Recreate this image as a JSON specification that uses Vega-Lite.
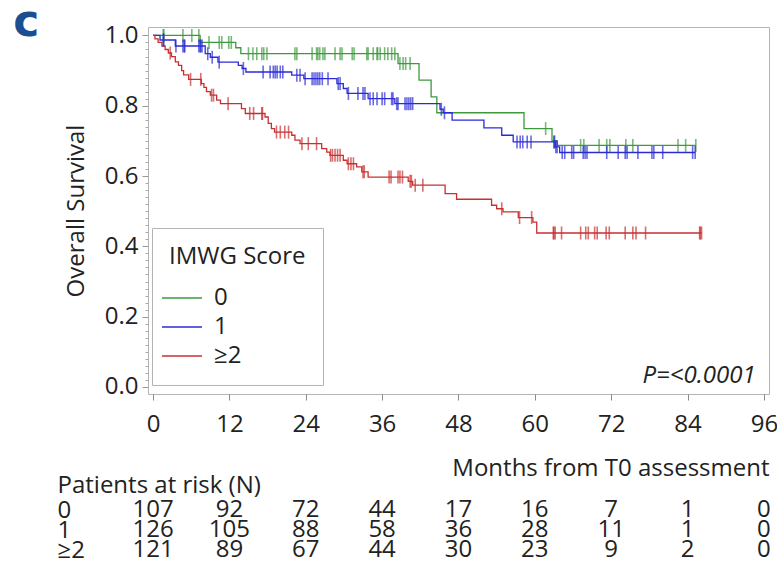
{
  "$schema": "https://vega.github.io/schema/vega-lite/v6.json",
  "background": "white",
  "padding": {"left": 12, "top": 0, "right": 2, "bottom": 4},
  "spacing": 19,
  "config": {"font": "Open Sans", "axis": {"labelColor": "#222222", "titleColor": "#222222", "labelFont": "Open Sans", "titleFont": "Open Sans"}, "legend": {"labelFont": "Open Sans", "titleFont": "Open Sans"}},
  "resolve": {"scale": {"x": "independent", "y": "independent"}},
  "datasets": {
    "curves": [
      {"group": "0", "month": 0, "surv": 1.0}, {"group": "0", "month": 7.4, "surv": 0.98}, {"group": "0", "month": 13.0, "surv": 0.965}, {"group": "0", "month": 13.8, "surv": 0.948}, {"group": "0", "month": 38.5, "surv": 0.92}, {"group": "0", "month": 41.8, "surv": 0.873}, {"group": "0", "month": 43.7, "surv": 0.825}, {"group": "0", "month": 44.6, "surv": 0.78}, {"group": "0", "month": 58.3, "surv": 0.735}, {"group": "0", "month": 62.7, "surv": 0.70}, {"group": "0", "month": 63.5, "surv": 0.687}, {"group": "0", "month": 85.3, "surv": 0.687},
      {"group": "1", "month": 0, "surv": 1.0}, {"group": "1", "month": 1.1, "surv": 0.987}, {"group": "1", "month": 3.5, "surv": 0.97}, {"group": "1", "month": 8.2, "surv": 0.948}, {"group": "1", "month": 9.0, "surv": 0.938}, {"group": "1", "month": 10.2, "surv": 0.924}, {"group": "1", "month": 13.4, "surv": 0.915}, {"group": "1", "month": 14.0, "surv": 0.906}, {"group": "1", "month": 14.6, "surv": 0.896}, {"group": "1", "month": 21.8, "surv": 0.887}, {"group": "1", "month": 23.7, "surv": 0.877}, {"group": "1", "month": 28.9, "surv": 0.863}, {"group": "1", "month": 29.9, "surv": 0.849}, {"group": "1", "month": 30.5, "surv": 0.835}, {"group": "1", "month": 33.8, "surv": 0.82}, {"group": "1", "month": 38.0, "surv": 0.806}, {"group": "1", "month": 45.1, "surv": 0.79}, {"group": "1", "month": 45.6, "surv": 0.78}, {"group": "1", "month": 47.0, "surv": 0.759}, {"group": "1", "month": 52.0, "surv": 0.737}, {"group": "1", "month": 54.8, "surv": 0.716}, {"group": "1", "month": 56.6, "surv": 0.697}, {"group": "1", "month": 63.2, "surv": 0.683}, {"group": "1", "month": 63.9, "surv": 0.667}, {"group": "1", "month": 85.2, "surv": 0.667},
      {"group": "≥2", "month": 0, "surv": 1.0}, {"group": "≥2", "month": 0.3, "surv": 0.99}, {"group": "≥2", "month": 0.8, "surv": 0.98}, {"group": "≥2", "month": 1.4, "surv": 0.97}, {"group": "≥2", "month": 1.9, "surv": 0.96}, {"group": "≥2", "month": 2.4, "surv": 0.95}, {"group": "≥2", "month": 2.9, "surv": 0.94}, {"group": "≥2", "month": 3.5, "surv": 0.925}, {"group": "≥2", "month": 4.0, "surv": 0.915}, {"group": "≥2", "month": 4.5, "surv": 0.90}, {"group": "≥2", "month": 4.8, "surv": 0.888}, {"group": "≥2", "month": 5.6, "surv": 0.875}, {"group": "≥2", "month": 7.6, "surv": 0.863}, {"group": "≥2", "month": 8.0, "surv": 0.852}, {"group": "≥2", "month": 8.4, "surv": 0.84}, {"group": "≥2", "month": 9.0, "surv": 0.83}, {"group": "≥2", "month": 10.0, "surv": 0.816}, {"group": "≥2", "month": 10.6, "surv": 0.806}, {"group": "≥2", "month": 13.9, "surv": 0.792}, {"group": "≥2", "month": 14.5, "surv": 0.778}, {"group": "≥2", "month": 17.6, "surv": 0.768}, {"group": "≥2", "month": 18.1, "surv": 0.75}, {"group": "≥2", "month": 18.6, "surv": 0.735}, {"group": "≥2", "month": 19.1, "surv": 0.725}, {"group": "≥2", "month": 21.8, "surv": 0.716}, {"group": "≥2", "month": 22.3, "surv": 0.702}, {"group": "≥2", "month": 23.1, "surv": 0.692}, {"group": "≥2", "month": 26.5, "surv": 0.678}, {"group": "≥2", "month": 27.3, "surv": 0.668}, {"group": "≥2", "month": 27.8, "surv": 0.659}, {"group": "≥2", "month": 29.9, "surv": 0.645}, {"group": "≥2", "month": 30.5, "surv": 0.635}, {"group": "≥2", "month": 32.0, "surv": 0.626}, {"group": "≥2", "month": 32.8, "surv": 0.612}, {"group": "≥2", "month": 33.8, "surv": 0.597}, {"group": "≥2", "month": 40.1, "surv": 0.585}, {"group": "≥2", "month": 40.8, "surv": 0.574}, {"group": "≥2", "month": 45.9, "surv": 0.55}, {"group": "≥2", "month": 47.7, "surv": 0.534}, {"group": "≥2", "month": 53.2, "surv": 0.517}, {"group": "≥2", "month": 54.0, "surv": 0.507}, {"group": "≥2", "month": 55.0, "surv": 0.498}, {"group": "≥2", "month": 57.4, "surv": 0.482}, {"group": "≥2", "month": 59.7, "surv": 0.469}, {"group": "≥2", "month": 60.3, "surv": 0.438}, {"group": "≥2", "month": 86.2, "surv": 0.438}
    ],
    "censor": [
      {"group": "0", "month": 1.6, "surv": 1.0}, {"group": "0", "month": 1.7, "surv": 1.0}, {"group": "0", "month": 4.7, "surv": 1.0}, {"group": "0", "month": 6.1, "surv": 1.0}, {"group": "0", "month": 7.2, "surv": 1.0},
      {"group": "0", "month": 8.8, "surv": 0.98}, {"group": "0", "month": 10.4, "surv": 0.98}, {"group": "0", "month": 10.8, "surv": 0.98}, {"group": "0", "month": 11.9, "surv": 0.98}, {"group": "0", "month": 12.3, "surv": 0.98},
      {"group": "0", "month": 15.0, "surv": 0.948}, {"group": "0", "month": 15.7, "surv": 0.948}, {"group": "0", "month": 16.3, "surv": 0.948}, {"group": "0", "month": 17.1, "surv": 0.948}, {"group": "0", "month": 17.4, "surv": 0.948}, {"group": "0", "month": 17.9, "surv": 0.948}, {"group": "0", "month": 22.3, "surv": 0.948}, {"group": "0", "month": 22.6, "surv": 0.948}, {"group": "0", "month": 25.0, "surv": 0.948}, {"group": "0", "month": 25.7, "surv": 0.948}, {"group": "0", "month": 25.9, "surv": 0.948}, {"group": "0", "month": 26.2, "surv": 0.948}, {"group": "0", "month": 26.7, "surv": 0.948}, {"group": "0", "month": 27.0, "surv": 0.948}, {"group": "0", "month": 28.6, "surv": 0.948}, {"group": "0", "month": 29.4, "surv": 0.948}, {"group": "0", "month": 29.7, "surv": 0.948}, {"group": "0", "month": 31.3, "surv": 0.948}, {"group": "0", "month": 31.6, "surv": 0.948}, {"group": "0", "month": 33.6, "surv": 0.948}, {"group": "0", "month": 33.8, "surv": 0.948}, {"group": "0", "month": 34.6, "surv": 0.948}, {"group": "0", "month": 35.2, "surv": 0.948}, {"group": "0", "month": 35.3, "surv": 0.948}, {"group": "0", "month": 35.7, "surv": 0.948}, {"group": "0", "month": 36.4, "surv": 0.948}, {"group": "0", "month": 36.9, "surv": 0.948}, {"group": "0", "month": 37.5, "surv": 0.948}, {"group": "0", "month": 38.0, "surv": 0.948},
      {"group": "0", "month": 38.8, "surv": 0.92}, {"group": "0", "month": 39.3, "surv": 0.92}, {"group": "0", "month": 39.7, "surv": 0.92}, {"group": "0", "month": 40.4, "surv": 0.92},
      {"group": "0", "month": 61.7, "surv": 0.735},
      {"group": "0", "month": 67.2, "surv": 0.687}, {"group": "0", "month": 67.7, "surv": 0.687}, {"group": "0", "month": 70.1, "surv": 0.687}, {"group": "0", "month": 71.3, "surv": 0.687}, {"group": "0", "month": 71.8, "surv": 0.687}, {"group": "0", "month": 74.3, "surv": 0.687}, {"group": "0", "month": 75.4, "surv": 0.687}, {"group": "0", "month": 82.5, "surv": 0.687}, {"group": "0", "month": 83.7, "surv": 0.687}, {"group": "0", "month": 85.3, "surv": 0.687},
      {"group": "1", "month": 1.6, "surv": 0.987}, {"group": "1", "month": 1.7, "surv": 0.987},
      {"group": "1", "month": 3.6, "surv": 0.97}, {"group": "1", "month": 4.7, "surv": 0.97}, {"group": "1", "month": 4.9, "surv": 0.97}, {"group": "1", "month": 5.0, "surv": 0.97}, {"group": "1", "month": 7.2, "surv": 0.97}, {"group": "1", "month": 7.4, "surv": 0.97}, {"group": "1", "month": 7.5, "surv": 0.97}, {"group": "1", "month": 7.7, "surv": 0.97},
      {"group": "1", "month": 8.6, "surv": 0.948}, {"group": "1", "month": 9.3, "surv": 0.938}, {"group": "1", "month": 10.4, "surv": 0.924}, {"group": "1", "month": 14.2, "surv": 0.906},
      {"group": "1", "month": 17.3, "surv": 0.896}, {"group": "1", "month": 18.4, "surv": 0.896}, {"group": "1", "month": 18.9, "surv": 0.896}, {"group": "1", "month": 19.2, "surv": 0.896}, {"group": "1", "month": 19.5, "surv": 0.896}, {"group": "1", "month": 20.0, "surv": 0.896}, {"group": "1", "month": 20.4, "surv": 0.896},
      {"group": "1", "month": 22.6, "surv": 0.887}, {"group": "1", "month": 23.1, "surv": 0.887},
      {"group": "1", "month": 23.9, "surv": 0.877}, {"group": "1", "month": 25.0, "surv": 0.877}, {"group": "1", "month": 25.3, "surv": 0.877}, {"group": "1", "month": 25.6, "surv": 0.877}, {"group": "1", "month": 25.9, "surv": 0.877}, {"group": "1", "month": 26.2, "surv": 0.877}, {"group": "1", "month": 26.6, "surv": 0.877}, {"group": "1", "month": 27.5, "surv": 0.877},
      {"group": "1", "month": 29.1, "surv": 0.863}, {"group": "1", "month": 29.4, "surv": 0.863},
      {"group": "1", "month": 30.7, "surv": 0.835}, {"group": "1", "month": 32.2, "surv": 0.835}, {"group": "1", "month": 33.0, "surv": 0.835}, {"group": "1", "month": 33.3, "surv": 0.835},
      {"group": "1", "month": 34.1, "surv": 0.82}, {"group": "1", "month": 34.6, "surv": 0.82}, {"group": "1", "month": 35.2, "surv": 0.82}, {"group": "1", "month": 36.0, "surv": 0.82}, {"group": "1", "month": 36.4, "surv": 0.82}, {"group": "1", "month": 37.5, "surv": 0.82}, {"group": "1", "month": 37.7, "surv": 0.82},
      {"group": "1", "month": 38.3, "surv": 0.806}, {"group": "1", "month": 38.5, "surv": 0.806}, {"group": "1", "month": 39.6, "surv": 0.806}, {"group": "1", "month": 39.9, "surv": 0.806}, {"group": "1", "month": 40.2, "surv": 0.806}, {"group": "1", "month": 40.5, "surv": 0.806}, {"group": "1", "month": 40.8, "surv": 0.806},
      {"group": "1", "month": 45.3, "surv": 0.79}, {"group": "1", "month": 45.8, "surv": 0.78},
      {"group": "1", "month": 57.2, "surv": 0.697}, {"group": "1", "month": 57.7, "surv": 0.697}, {"group": "1", "month": 58.1, "surv": 0.697}, {"group": "1", "month": 58.8, "surv": 0.697}, {"group": "1", "month": 59.4, "surv": 0.697}, {"group": "1", "month": 63.0, "surv": 0.697}, {"group": "1", "month": 63.1, "surv": 0.697},
      {"group": "1", "month": 63.3, "surv": 0.683}, {"group": "1", "month": 63.5, "surv": 0.683},
      {"group": "1", "month": 64.3, "surv": 0.667}, {"group": "1", "month": 64.7, "surv": 0.667}, {"group": "1", "month": 65.8, "surv": 0.667}, {"group": "1", "month": 66.1, "surv": 0.667}, {"group": "1", "month": 67.6, "surv": 0.667}, {"group": "1", "month": 67.9, "surv": 0.667}, {"group": "1", "month": 68.2, "surv": 0.667}, {"group": "1", "month": 71.3, "surv": 0.667}, {"group": "1", "month": 73.1, "surv": 0.667}, {"group": "1", "month": 74.2, "surv": 0.667}, {"group": "1", "month": 74.5, "surv": 0.667}, {"group": "1", "month": 76.2, "surv": 0.667}, {"group": "1", "month": 78.4, "surv": 0.667}, {"group": "1", "month": 78.7, "surv": 0.667}, {"group": "1", "month": 80.1, "surv": 0.667}, {"group": "1", "month": 84.8, "surv": 0.667}, {"group": "1", "month": 85.2, "surv": 0.667},
      {"group": "≥2", "month": 2.7, "surv": 0.95}, {"group": "≥2", "month": 5.9, "surv": 0.875}, {"group": "≥2", "month": 7.5, "surv": 0.875}, {"group": "≥2", "month": 9.2, "surv": 0.83}, {"group": "≥2", "month": 9.5, "surv": 0.83}, {"group": "≥2", "month": 11.8, "surv": 0.806},
      {"group": "≥2", "month": 15.2, "surv": 0.778}, {"group": "≥2", "month": 15.8, "surv": 0.778}, {"group": "≥2", "month": 17.1, "surv": 0.778}, {"group": "≥2", "month": 17.2, "surv": 0.778},
      {"group": "≥2", "month": 19.4, "surv": 0.725}, {"group": "≥2", "month": 20.0, "surv": 0.725}, {"group": "≥2", "month": 20.7, "surv": 0.725}, {"group": "≥2", "month": 21.3, "surv": 0.725},
      {"group": "≥2", "month": 23.4, "surv": 0.692}, {"group": "≥2", "month": 24.4, "surv": 0.692}, {"group": "≥2", "month": 25.7, "surv": 0.692},
      {"group": "≥2", "month": 27.9, "surv": 0.659}, {"group": "≥2", "month": 28.2, "surv": 0.659}, {"group": "≥2", "month": 28.6, "surv": 0.659}, {"group": "≥2", "month": 29.0, "surv": 0.659}, {"group": "≥2", "month": 29.4, "surv": 0.659},
      {"group": "≥2", "month": 30.7, "surv": 0.635}, {"group": "≥2", "month": 31.1, "surv": 0.635}, {"group": "≥2", "month": 31.5, "surv": 0.635},
      {"group": "≥2", "month": 33.0, "surv": 0.612}, {"group": "≥2", "month": 33.2, "surv": 0.612},
      {"group": "≥2", "month": 37.1, "surv": 0.597}, {"group": "≥2", "month": 37.4, "surv": 0.597}, {"group": "≥2", "month": 38.5, "surv": 0.597}, {"group": "≥2", "month": 38.8, "surv": 0.597}, {"group": "≥2", "month": 39.2, "surv": 0.597},
      {"group": "≥2", "month": 40.4, "surv": 0.585}, {"group": "≥2", "month": 40.6, "surv": 0.585}, {"group": "≥2", "month": 41.2, "surv": 0.574}, {"group": "≥2", "month": 42.4, "surv": 0.574},
      {"group": "≥2", "month": 54.8, "surv": 0.507}, {"group": "≥2", "month": 57.6, "surv": 0.482}, {"group": "≥2", "month": 59.5, "surv": 0.482},
      {"group": "≥2", "month": 62.9, "surv": 0.438}, {"group": "≥2", "month": 63.0, "surv": 0.438}, {"group": "≥2", "month": 63.2, "surv": 0.438}, {"group": "≥2", "month": 64.2, "surv": 0.438}, {"group": "≥2", "month": 67.2, "surv": 0.438}, {"group": "≥2", "month": 68.0, "surv": 0.438}, {"group": "≥2", "month": 68.4, "surv": 0.438}, {"group": "≥2", "month": 69.4, "surv": 0.438}, {"group": "≥2", "month": 69.8, "surv": 0.438}, {"group": "≥2", "month": 71.2, "surv": 0.438}, {"group": "≥2", "month": 71.7, "surv": 0.438}, {"group": "≥2", "month": 74.2, "surv": 0.438}, {"group": "≥2", "month": 75.4, "surv": 0.438}, {"group": "≥2", "month": 75.9, "surv": 0.438}, {"group": "≥2", "month": 77.4, "surv": 0.438}, {"group": "≥2", "month": 85.9, "surv": 0.438}, {"group": "≥2", "month": 86.0, "surv": 0.438}, {"group": "≥2", "month": 86.2, "surv": 0.438}
    ],
    "risk": [
      {"group": "0", "month": 0, "n": 107}, {"group": "0", "month": 12, "n": 92}, {"group": "0", "month": 24, "n": 72}, {"group": "0", "month": 36, "n": 44}, {"group": "0", "month": 48, "n": 17}, {"group": "0", "month": 60, "n": 16}, {"group": "0", "month": 72, "n": 7}, {"group": "0", "month": 84, "n": 1}, {"group": "0", "month": 96, "n": 0},
      {"group": "1", "month": 0, "n": 126}, {"group": "1", "month": 12, "n": 105}, {"group": "1", "month": 24, "n": 88}, {"group": "1", "month": 36, "n": 58}, {"group": "1", "month": 48, "n": 36}, {"group": "1", "month": 60, "n": 28}, {"group": "1", "month": 72, "n": 11}, {"group": "1", "month": 84, "n": 1}, {"group": "1", "month": 96, "n": 0},
      {"group": "≥2", "month": 0, "n": 121}, {"group": "≥2", "month": 12, "n": 89}, {"group": "≥2", "month": 24, "n": 67}, {"group": "≥2", "month": 36, "n": 44}, {"group": "≥2", "month": 48, "n": 30}, {"group": "≥2", "month": 60, "n": 23}, {"group": "≥2", "month": 72, "n": 9}, {"group": "≥2", "month": 84, "n": 2}, {"group": "≥2", "month": 96, "n": 0}
    ]
  },
  "vconcat": [
    {
      "width": 621,
      "height": 367,
      "title": {"text": "c", "anchor": "start", "frame": "bounds", "fontSize": 44, "fontWeight": "bold", "font": "DejaVu Sans", "color": "#1b4f8f", "dx": -51, "offset": -22},
      "view": {"stroke": "#b4b4b4", "strokeWidth": 1},
      "resolve": {"axis": {"y": "independent"}},
      "layer": [
        {
          "data": {"name": "curves"},
          "mark": {"type": "line", "interpolate": "step-after", "strokeWidth": 1.3},
          "encoding": {
            "x": {"field": "month", "type": "quantitative", "scale": {"domain": [-0.79, 96.8], "nice": false, "zero": false},
                  "axis": {"values": [0, 12, 24, 36, 48, 60, 72, 84, 96], "title": null, "grid": false, "domain": false, "tickColor": "#888888", "tickSize": 6, "labelFontSize": 24, "labelPadding": 12, "labelFlush": false}},
            "y": {"field": "surv", "type": "quantitative", "scale": {"domain": [-0.02, 1.024], "nice": false, "zero": false},
                  "axis": {"orient": "left", "values": [0, 0.2, 0.4, 0.6, 0.8, 1.0], "format": ".1f", "grid": false, "domain": false, "tickColor": "#999999", "tickSize": 6, "labelFontSize": 24, "labelPadding": 4,
                           "title": "Overall Survival", "titleFontSize": 24, "titleFontWeight": "normal", "titlePadding": 16}},
            "color": {"field": "group", "type": "nominal", "sort": ["0", "1", "≥2"],
                      "scale": {"domain": ["0", "1", "≥2"], "range": ["#3d9a3d", "#2b2bd6", "#c83030"]},
                      "legend": {"orient": "none", "legendX": 4, "legendY": 201, "title": "IMWG Score", "titleFontSize": 24, "titleFontWeight": "normal", "labelFontSize": 24, "symbolType": "M-2,0H2", "symbolSize": 400, "symbolStrokeWidth": 1.5, "symbolOffset": 1, "padding": 17, "strokeColor": "#b4b4b4", "fillColor": "white", "titlePadding": 17, "rowPadding": 5, "labelOffset": 20, "titleColor": "#222222", "labelColor": "#222222"}}
          }
        },
        {
          "data": {"name": "censor"},
          "mark": {"type": "tick", "orient": "vertical", "size": 13, "thickness": 1.6},
          "encoding": {
            "x": {"field": "month", "type": "quantitative"},
            "y": {"field": "surv", "type": "quantitative",
                  "axis": {"orient": "left", "values": [0.02, 0.04, 0.06, 0.08, 0.1, 0.12, 0.14, 0.16, 0.18, 0.22, 0.24, 0.26, 0.28, 0.3, 0.32, 0.34, 0.36, 0.38, 0.42, 0.44, 0.46, 0.48, 0.5, 0.52, 0.54, 0.56, 0.58, 0.62, 0.64, 0.66, 0.68, 0.7, 0.72, 0.74, 0.76, 0.78, 0.82, 0.84, 0.86, 0.88, 0.9, 0.92, 0.94, 0.96, 0.98],
                           "labels": false, "title": null, "grid": false, "domain": false, "tickColor": "#aaaaaa", "tickSize": 3}},
            "color": {"field": "group", "type": "nominal", "legend": null}
          }
        },
        {
          "data": {"values": [{"label": "P=<0.0001"}]},
          "mark": {"type": "text", "align": "right", "baseline": "middle", "fontStyle": "italic", "fontSize": 24, "color": "#222222"},
          "encoding": {
            "x": {"datum": 94.7, "type": "quantitative"},
            "y": {"datum": 0.03, "type": "quantitative", "axis": null},
            "text": {"field": "label", "type": "nominal"}
          }
        }
      ]
    },
    {
      "width": 621,
      "height": 60,
      "view": {"stroke": null},
      "data": {"name": "risk"},
      "mark": {"type": "text", "fontSize": 24, "baseline": "middle", "align": "center", "color": "#222222"},
      "encoding": {
        "x": {"field": "month", "type": "quantitative", "scale": {"domain": [-0.79, 96.8], "nice": false, "zero": false},
              "axis": {"orient": "top", "labels": false, "ticks": false, "domain": false, "grid": false, "title": "Months from T0 assessment", "titleFontSize": 24, "titleFontWeight": "normal", "titleAnchor": "end", "titlePadding": 20}},
        "y": {"field": "group", "type": "nominal", "sort": ["0", "1", "≥2"], "scale": {"paddingInner": 0, "paddingOuter": 0},
              "axis": {"ticks": false, "domain": false, "grid": false, "labelAlign": "left", "labelPadding": 91, "labelFontSize": 24, "title": "Patients at risk (N)", "titleAngle": 0, "titleX": -91, "titleY": -15, "titleAlign": "left", "titleBaseline": "middle", "titleFontSize": 24, "titleFontWeight": "normal"}},
        "text": {"field": "n", "type": "quantitative"}
      }
    }
  ]
}
